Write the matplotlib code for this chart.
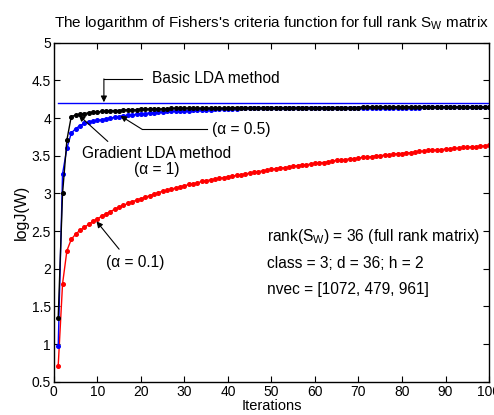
import numpy as np
import matplotlib
matplotlib.use("Agg")
import matplotlib.pyplot as plt
from matplotlib.ticker import FuncFormatter

plt.rcParams['font.family'] = ['Liberation Sans', 'DejaVu Sans']
plt.rcParams['mathtext.fontset'] = 'custom'
plt.rcParams['mathtext.rm'] = 'Liberation Sans'
plt.rcParams['mathtext.it'] = 'Liberation Sans:italic'

# data
iterations = np.arange(1, 101)

alpha_01 = [
    0.71, 1.80, 2.24, 2.39, 2.46, 2.51, 2.55, 2.59, 2.63, 2.66,
    2.70, 2.73, 2.76, 2.79, 2.82, 2.84, 2.87, 2.89, 2.91, 2.93,
    2.95, 2.97, 2.99, 3.01, 3.03, 3.04, 3.06, 3.07, 3.09, 3.10,
    3.12, 3.13, 3.14, 3.16, 3.17, 3.18, 3.19, 3.20, 3.21, 3.22,
    3.23, 3.24, 3.25, 3.26, 3.27, 3.28, 3.29, 3.30, 3.31, 3.32,
    3.33, 3.34, 3.34, 3.35, 3.36, 3.37, 3.38, 3.38, 3.39, 3.40,
    3.41, 3.41, 3.42, 3.43, 3.44, 3.44, 3.45, 3.46, 3.46, 3.47,
    3.48, 3.48, 3.49, 3.50, 3.50, 3.51, 3.51, 3.52, 3.53, 3.53,
    3.54, 3.54, 3.55, 3.56, 3.56, 3.57, 3.57, 3.58, 3.58, 3.59,
    3.59, 3.60, 3.60, 3.61, 3.61, 3.62, 3.62, 3.63, 3.63, 3.64,
]

alpha_05 = [
    0.97, 3.26, 3.60, 3.80, 3.86, 3.90, 3.93, 3.95, 3.96, 3.97,
    3.98, 3.99, 4.00, 4.01, 4.02, 4.03, 4.04, 4.04, 4.05, 4.06,
    4.06, 4.07, 4.07, 4.08, 4.08, 4.09, 4.09, 4.09, 4.10, 4.10,
    4.10, 4.11, 4.11, 4.11, 4.11, 4.11, 4.12, 4.12, 4.12, 4.12,
    4.12, 4.12, 4.13, 4.13, 4.13, 4.13, 4.13, 4.13, 4.13, 4.13,
    4.13, 4.13, 4.13, 4.14, 4.14, 4.14, 4.14, 4.14, 4.14, 4.14,
    4.14, 4.14, 4.14, 4.14, 4.14, 4.14, 4.14, 4.14, 4.14, 4.14,
    4.14, 4.14, 4.14, 4.14, 4.14, 4.14, 4.14, 4.14, 4.14, 4.14,
    4.14, 4.14, 4.14, 4.14, 4.15, 4.15, 4.15, 4.15, 4.15, 4.15,
    4.15, 4.15, 4.15, 4.15, 4.15, 4.15, 4.15, 4.15, 4.15, 4.15,
]

alpha_1 = [
    1.35, 3.00, 3.71, 4.02, 4.04, 4.05, 4.06, 4.07, 4.08, 4.08,
    4.09, 4.09, 4.10, 4.10, 4.10, 4.11, 4.11, 4.11, 4.11, 4.12,
    4.12, 4.12, 4.12, 4.12, 4.12, 4.12, 4.13, 4.13, 4.13, 4.13,
    4.13, 4.13, 4.13, 4.13, 4.13, 4.13, 4.13, 4.13, 4.13, 4.13,
    4.14, 4.14, 4.14, 4.14, 4.14, 4.14, 4.14, 4.14, 4.14, 4.14,
    4.14, 4.14, 4.14, 4.14, 4.14, 4.14, 4.14, 4.14, 4.14, 4.14,
    4.14, 4.14, 4.14, 4.14, 4.14, 4.14, 4.14, 4.14, 4.14, 4.14,
    4.15, 4.15, 4.15, 4.15, 4.15, 4.15, 4.15, 4.15, 4.15, 4.15,
    4.15, 4.15, 4.15, 4.15, 4.15, 4.15, 4.15, 4.15, 4.15, 4.15,
    4.15, 4.15, 4.15, 4.15, 4.15, 4.15, 4.15, 4.15, 4.15, 4.15,
]

basic_lda = 4.20

fig = plt.figure(figsize=(4.94, 4.15), dpi=100)
ax = fig.add_axes([0.109, 0.080, 0.881, 0.817])

ax.plot([1, 100], [basic_lda, basic_lda], color='blue', lw=1.0)
ax.plot(iterations, alpha_01, color='red', lw=1.0, marker='o', ms=2.6)
ax.plot(iterations, alpha_05, color='blue', lw=1.0, marker='o', ms=2.6)
ax.plot(iterations, alpha_1, color='black', lw=1.0, marker='o', ms=2.6)

ax.set_xlim(0, 100)
ax.set_ylim(0.5, 5)
ax.set_xticks(np.arange(0, 101, 10))
ax.set_yticks(np.arange(0.5, 5.01, 0.5))
ax.yaxis.set_major_formatter(FuncFormatter(lambda v, p: f"{v:g}"))
ax.tick_params(direction='in', top=True, right=True, labelsize=10, length=4, pad=2)
for s in ax.spines.values():
    s.set_linewidth(1.0)

ax.set_xlabel('Iterations', fontsize=10.5, labelpad=0)
ax.set_ylabel('logJ(W)', fontsize=11.5, labelpad=2)
ax.set_title("The logarithm of Fishers's criteria function for full rank S$_\\mathregular{W}$ matrix",
             fontsize=11, pad=11)

arrow = dict(arrowstyle='-|>', color='black', lw=0.8, mutation_scale=9, shrinkA=0, shrinkB=0)
fs = 11.2

# Basic LDA method
ax.text(22.5, 4.52, 'Basic LDA method', fontsize=fs, va='center', ha='left')
ax.plot([20.2, 11.5], [4.52, 4.52], color='black', lw=0.8)
ax.annotate('', xy=(11.5, 4.21), xytext=(11.5, 4.52), arrowprops=arrow)

# alpha = 0.5
ax.text(36.3, 3.85, '(\u03b1 = 0.5)', fontsize=fs, va='center', ha='left')
ax.plot([35.2, 20.3], [3.85, 3.85], color='black', lw=0.8)
ax.annotate('', xy=(15.3, 4.03), xytext=(20.3, 3.85), arrowprops=arrow)

# Gradient LDA method (alpha = 1)
ax.text(23.7, 3.42, 'Gradient LDA method\n(\u03b1 = 1)', fontsize=fs,
        va='center', ha='center', multialignment='center', linespacing=1.05)
ax.annotate('', xy=(5.7, 4.04), xytext=(12.4, 3.69), arrowprops=arrow)

# alpha = 0.1
ax.text(12.0, 2.09, '(\u03b1 = 0.1)', fontsize=fs, va='center', ha='left')
ax.annotate('', xy=(9.8, 2.63), xytext=(15.0, 2.26), arrowprops=arrow)

# info text
ax.text(49, 2.43, 'rank(S$_\\mathregular{W}$) = 36 (full rank matrix)', fontsize=fs, va='center')
ax.text(49, 2.07, 'class = 3; d = 36; h = 2', fontsize=fs, va='center')
ax.text(49, 1.73, 'nvec = [1072, 479, 961]', fontsize=fs, va='center')

fig.savefig('out.png', dpi=100)
